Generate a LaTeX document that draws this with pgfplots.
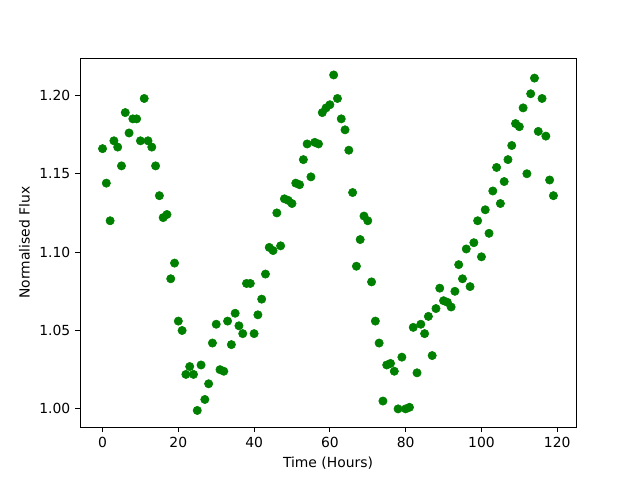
\documentclass[border=0pt]{standalone}
\usepackage{pgfplots}
\pgfplotsset{compat=1.18}
\usepackage{fontspec}
\setmainfont{DejaVu Sans}
\definecolor{mplgreen}{HTML}{008000}
\begin{document}
\fontsize{10}{12}\selectfont
\begin{tikzpicture}
\begin{axis}[
  scale only axis,
  width=357.1pt, height=265.7pt,
  at={(0,0)}, anchor=south west,
  xmin=-5.95, xmax=124.95,
  ymin=0.9883, ymax=1.2237,
  xtick={0,20,40,60,80,100,120},
  ytick={1.00,1.05,1.10,1.15,1.20},
  yticklabel style={/pgf/number format/.cd,fixed,fixed zerofill,precision=2},
  /pgf/number format/assume math mode=true,
  tick align=outside,
  tick pos=left,
  major tick length=3.5pt,
  tick style={black, line width=0.6pt},
  axis line style={line width=0.6pt},
  xlabel={Time (Hours)},
  ylabel={Normalised Flux},
  ticklabel style={font=\fontsize{10}{12}\selectfont},
  label style={font=\fontsize{10}{12}\selectfont},
]
\addplot[only marks, mark=*, mark size=3pt, mark options={draw=mplgreen, fill=mplgreen}] coordinates {
(0,1.166)(1,1.144)(2,1.120)(3,1.171)(4,1.167)(5,1.155)(6,1.189)(7,1.176)(8,1.185)(9,1.185)
(10,1.171)(11,1.198)(12,1.171)(13,1.167)(14,1.155)(15,1.136)(16,1.122)(17,1.124)(18,1.083)(19,1.093)
(20,1.056)(21,1.050)(22,1.022)(23,1.027)(24,1.022)(25,0.999)(26,1.028)(27,1.006)(28,1.016)(29,1.042)
(30,1.054)(31,1.025)(32,1.024)(33,1.056)(34,1.041)(35,1.061)(36,1.053)(37,1.048)(38,1.080)(39,1.080)
(40,1.048)(41,1.060)(42,1.070)(43,1.086)(44,1.103)(45,1.101)(46,1.125)(47,1.104)(48,1.134)(49,1.133)
(50,1.131)(51,1.144)(52,1.143)(53,1.159)(54,1.169)(55,1.148)(56,1.170)(57,1.169)(58,1.189)(59,1.192)
(60,1.194)(61,1.213)(62,1.198)(63,1.185)(64,1.178)(65,1.165)(66,1.138)(67,1.091)(68,1.108)(69,1.123)
(70,1.120)(71,1.081)(72,1.056)(73,1.042)(74,1.005)(75,1.028)(76,1.029)(77,1.024)(78,1.000)(79,1.033)
(80,1.000)(81,1.001)(82,1.052)(83,1.023)(84,1.054)(85,1.048)(86,1.059)(87,1.034)(88,1.064)(89,1.077)
(90,1.069)(91,1.068)(92,1.065)(93,1.075)(94,1.092)(95,1.083)(96,1.102)(97,1.078)(98,1.106)(99,1.120)
(100,1.097)(101,1.127)(102,1.112)(103,1.139)(104,1.154)(105,1.131)(106,1.145)(107,1.159)(108,1.168)(109,1.182)
(110,1.180)(111,1.192)(112,1.150)(113,1.201)(114,1.211)(115,1.177)(116,1.198)(117,1.174)(118,1.146)(119,1.136)
};
\end{axis}
\path[use as bounding box] (-57.6pt,-38.0pt) rectangle (403.2pt,307.6pt);
\end{tikzpicture}
\end{document}
